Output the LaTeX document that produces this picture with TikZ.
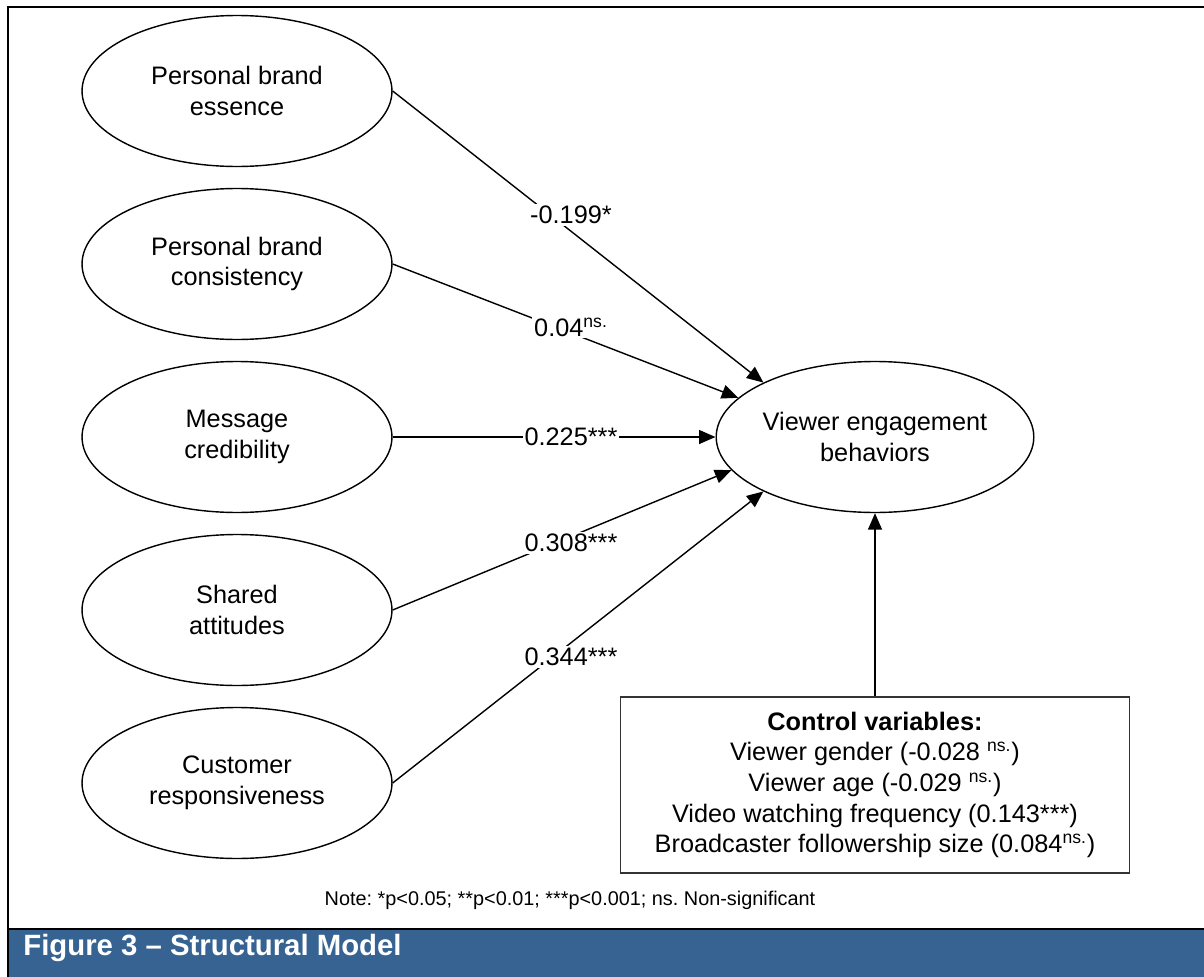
\documentclass[tikz,border=0pt]{standalone}
\usepackage{fontspec}
\setmainfont{Liberation Sans}
\usetikzlibrary{shapes.geometric,arrows.meta}
\definecolor{bannerblue}{RGB}{54,99,145}
\frenchspacing

\begin{document}
\begin{tikzpicture}[x=0.02cm, y=0.02cm,
    construct/.style={draw, ellipse, line width=0.8pt, minimum width=6.2cm,
      minimum height=3.02cm, inner sep=0pt, align=center,
      font=\fontsize{14.4}{17.4}\selectfont},
    effect/.style={draw, line width=0.8pt, -{Triangle[length=0.33cm, width=0.28cm]}},
    coef/.style={fill=white, inner sep=1pt, font=\fontsize{14.4}{17.4}\selectfont},
    controlbox/.style={draw=black!80, line width=0.6pt, minimum width=10.2cm,
      minimum height=3.52cm, align=center, font=\fontsize{14.4}{17.4}\selectfont}
  ]

  \useasboundingbox (0,0) rectangle (1204,-977);

  % frame and title bar
  \fill[bannerblue] (8,-929) rectangle (1210,-985);
  \draw[line width=1.4pt] (1210,-7) -- (8,-7) -- (8,-985);
  \draw[line width=1.4pt] (8,-929) -- (1210,-929);
  \node[anchor=base west, inner sep=0pt, text=white,
    font=\bfseries\fontsize{16.7}{20}\selectfont]
    (title) at (23,-955) {Figure 3 -- Structural Model};

  % constructs
  \node[construct] (essence) at (237,-91) {Personal brand\\essence};
  \node[construct] (consistency) at (237,-264) {Personal brand\\consistency};
  \node[construct] (credibility) at (237,-437) {Message\\credibility};
  \node[construct] (attitudes) at (237,-610) {Shared\\attitudes};
  \node[construct] (responsive) at (237,-783) {Customer\\responsiveness};
  \node[construct] (engage) at (875,-437) {Viewer engagement\\behaviors};

  \node[controlbox] (controls) at (875,-785) {\textbf{Control variables:}\\
    Viewer gender (-0.028 \textsuperscript{ns.})\\
    Viewer age (-0.029 \textsuperscript{ns.})\\
    Video watching frequency (0.143***)\\
    Broadcaster followership size (0.084\textsuperscript{ns.})};

  % paths
  \draw[effect] (essence.east) -- (engage.154);
  \draw[effect] (consistency.east) -- (engage.164);
  \draw[effect] (credibility.east) -- (engage.west);
  \draw[effect] (attitudes.east) -- (engage.193);
  \draw[effect] (responsive.east) -- (engage.206);
  \draw[effect] (controls.north) -- (engage.south);

  \node[coef] (c1) at (571,-215) {-0.199*};
  \node[coef] (c2) at (571,-327) {0.04\textsuperscript{ns.}};
  \node[coef] (c3) at (571,-437) {0.225***};
  \node[coef] (c4) at (571,-543) {0.308***};
  \node[coef] (c5) at (571,-657) {0.344***};

  \node[font=\fontsize{11.3}{13.6}\selectfont] (note) at (570,-900)
    {Note: *p<0.05; **p<0.01; ***p<0.001; ns. Non-significant};

\end{tikzpicture}
\end{document}
